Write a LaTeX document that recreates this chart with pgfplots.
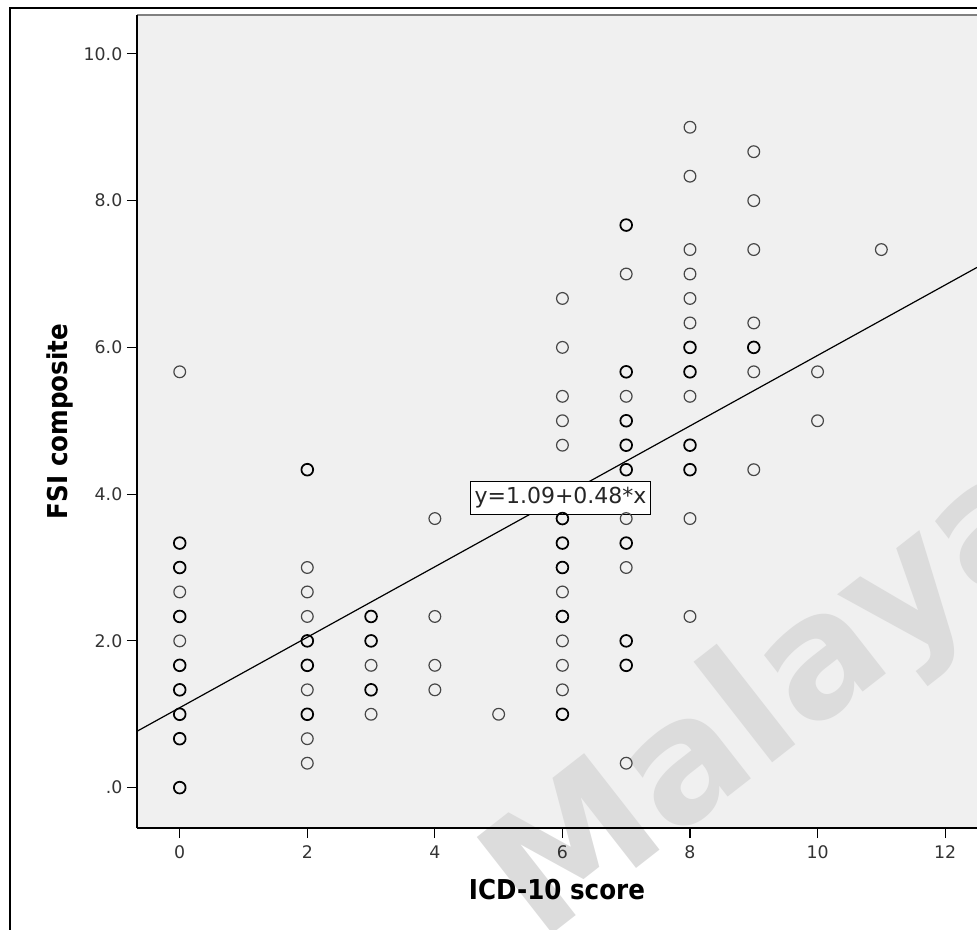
\documentclass[border=0pt]{standalone}
\usepackage{fontspec}
\setmainfont{DejaVu Sans}
\newfontfamily\condbf{DejaVu Sans Condensed Bold}
\usepackage{pgfplots}
\usepackage{pgfplotstable}
\pgfplotsset{compat=1.18}
\definecolor{plotbg}{HTML}{F0F0F0}
\definecolor{wmark}{HTML}{DCDCDC}

% single cases (thin rings)
\pgfplotstableread{
x y
0 5.667
0 2.667
0 2.0
2 3.0
2 2.667
2 2.333
2 1.333
2 0.667
2 0.333
3 1.667
3 1.0
4 3.667
4 2.333
4 1.667
4 1.333
5 1.0
6 6.667
6 6.0
6 5.333
6 5.0
6 4.667
6 2.667
6 2.0
6 1.667
6 1.333
7 7.0
7 5.333
7 3.667
7 3.0
7 0.333
8 9.0
8 8.333
8 7.333
8 7.0
8 6.667
8 6.333
8 5.333
8 3.667
8 2.333
9 8.667
9 8.0
9 7.333
9 6.333
9 5.667
9 4.333
10 5.667
10 5.0
11 7.333
}\singles

% overlapping cases (darker rings)
\pgfplotstableread{
x y
0 3.333
0 3.0
0 2.333
0 1.667
0 1.333
0 1.0
0 0.667
0 0.0
2 4.333
2 2.0
2 1.667
2 1.0
3 2.333
3 2.0
3 1.333
6 3.667
6 3.333
6 3.0
6 2.333
6 1.0
7 7.667
7 5.667
7 5.0
7 4.667
7 4.333
7 3.333
7 2.0
7 1.667
8 6.0
8 5.667
8 4.667
8 4.333
9 6.0
}\multis

\begin{document}
\begin{tikzpicture}
\begin{axis}[
    scale only axis,
    width=630pt, height=609.75pt,
    xmin=-0.67, xmax=12.5,
    ymin=-0.55, ymax=10.53,
    axis background/.style={fill=plotbg},
    axis x line*=bottom, axis y line*=left,
    axis line style={-, line width=1.1pt, black},
    axis on top,
    clip=false,
    tick align=outside,
    major tick length=7.5pt,
    every tick/.style={black, line width=0.9pt},
    xtick={0,2,4,6,8,10,12},
    xticklabels={0,2,4,6,8,10,12},
    ytick={0,2,4,6,8,10},
    yticklabels={.0,2.0,4.0,6.0,8.0,10.0},
    xticklabel style={font=\fontsize{13}{13}\selectfont, text=black!80, yshift=-2pt},
    yticklabel style={font=\fontsize{13}{13}\selectfont, text=black!80},
    xlabel={ICD-10 score},
    ylabel={FSI composite},
    xlabel style={font=\condbf\fontsize{20.5}{20.5}\selectfont, at={(axis description cs:0.5,-0.076)}, anchor=center},
    ylabel style={font=\condbf\fontsize{20.5}{20.5}\selectfont, at={(axis description cs:-0.092,0.5)}, anchor=center},
]
\node[rotate=38, text=wmark, font=\bfseries\fontsize{126}{126}\selectfont] at (axis cs:9.35,1.17) {Malaya};
\addplot[black, line width=0.9pt] coordinates {(-0.67,0.768) (12.5,7.09)};
\addplot[only marks, mark=o, mark size=4.4pt, black!72, mark options={line width=0.9pt}] table[x=x,y=y] {\singles};
\addplot[only marks, mark=o, mark size=4.4pt, black, mark options={line width=1.3pt}] table[x=x,y=y] {\multis};
\node[draw=black, line width=1pt, fill=white, inner xsep=3pt, inner ysep=4.5pt, font=\fontsize{16.5}{16.5}\selectfont, text=black!85] at (axis cs:5.97,3.95) {y=1.09+0.48*x};
\draw[gray, line width=1.5pt] (rel axis cs:0,1) -- (rel axis cs:1,1);
\end{axis}
\begin{scope}[x=0.75pt, y=0.75pt]
\draw[black, line width=1.5pt] (-127,-102) -- (-127,820) -- (840,820);
\pgfresetboundingbox
\useasboundingbox (-137,-102) rectangle (840,828);
\end{scope}
\end{tikzpicture}
\end{document}
